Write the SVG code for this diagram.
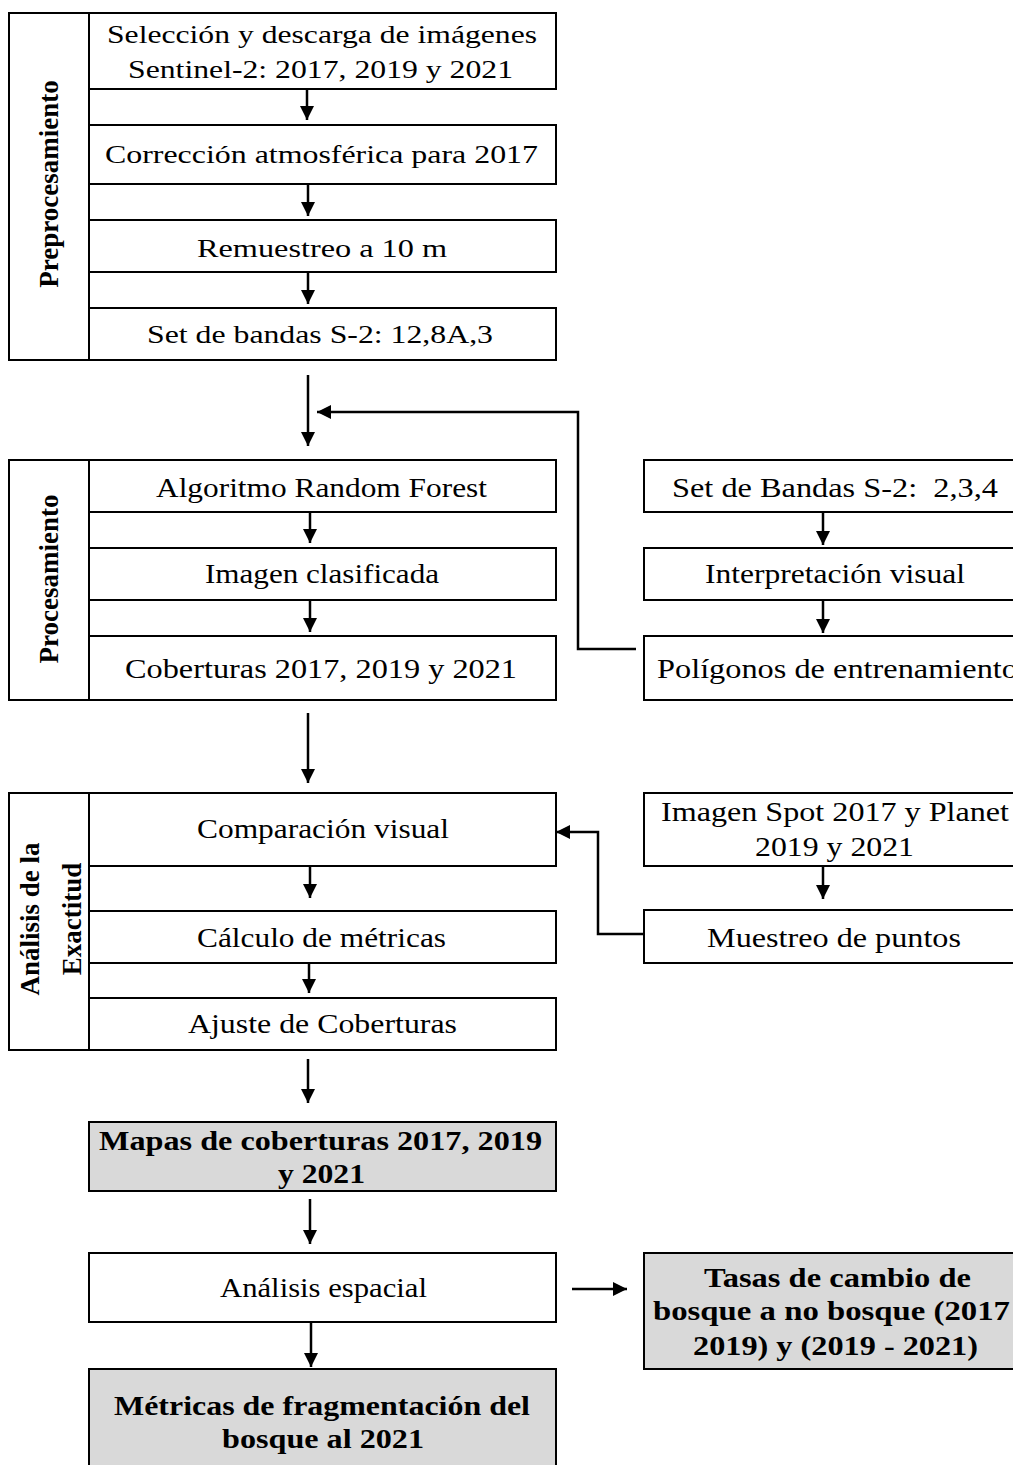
<svg xmlns="http://www.w3.org/2000/svg" width="1013" height="1465" viewBox="0 0 1013 1465">
<style>
.box{fill:#fff;stroke:#000;stroke-width:2}
.gbox{fill:#d9d9d9;stroke:#000;stroke-width:2}
.t{font-family:"Liberation Serif","Times New Roman",serif;font-size:27px;fill:#000;text-anchor:middle}
.t1{font-size:26px}
.b{font-weight:bold}
.lab{font-family:"Liberation Serif","Times New Roman",serif;font-size:27px;font-weight:bold;fill:#000;text-anchor:middle}
.c{fill:none;stroke:#000;stroke-width:2.5;marker-end:url(#ah)}
</style>
<defs>
<marker id="ah" viewBox="0 0 10 10" refX="10" refY="5" markerUnits="userSpaceOnUse" markerWidth="14" markerHeight="15" orient="auto">
<path d="M0,0 L10,5 L0,10 z" fill="#000"/>
</marker>
</defs>
<rect width="1013" height="1465" fill="#fff"/>

<g id="preprocesamiento">
<rect class="box" x="9" y="13" width="80" height="347"/>
<text class="lab" transform="translate(58,184) rotate(-90)">Preprocesamiento</text>
</g>
<g id="n-seleccion">
<rect class="box" x="89" y="13" width="467" height="76"/>
<text class="t t1" x="322" y="43" textLength="430" lengthAdjust="spacingAndGlyphs">Selección y descarga de imágenes</text>
<text class="t t1" x="320.5" y="78" textLength="385" lengthAdjust="spacingAndGlyphs">Sentinel-2: 2017, 2019 y 2021</text>
</g>
<g id="n-correccion">
<rect class="box" x="89" y="125" width="467" height="59"/>
<text class="t t1" x="321.5" y="163" textLength="433" lengthAdjust="spacingAndGlyphs">Corrección atmosférica para 2017</text>
</g>
<g id="n-remuestreo">
<rect class="box" x="89" y="220" width="467" height="52"/>
<text class="t t1" x="322" y="257" textLength="250" lengthAdjust="spacingAndGlyphs">Remuestreo a 10 m</text>
</g>
<g id="n-setbandas">
<rect class="box" x="89" y="308" width="467" height="52"/>
<text class="t t1" x="320" y="343" textLength="346" lengthAdjust="spacingAndGlyphs">Set de bandas S-2: 12,8A,3</text>
</g>

<g id="procesamiento">
<rect class="box" x="9" y="460" width="80" height="240"/>
<text class="lab" transform="translate(58,579) rotate(-90)">Procesamiento</text>
</g>
<g id="n-random">
<rect class="box" x="89" y="460" width="467" height="52"/>
<text class="t" x="321.5" y="497" textLength="331" lengthAdjust="spacingAndGlyphs">Algoritmo Random Forest</text>
</g>
<g id="n-clasificada">
<rect class="box" x="89" y="548" width="467" height="52"/>
<text class="t" x="322" y="583" textLength="234" lengthAdjust="spacingAndGlyphs">Imagen clasificada</text>
</g>
<g id="n-coberturas">
<rect class="box" x="89" y="636" width="467" height="64"/>
<text class="t" x="321" y="678" textLength="392" lengthAdjust="spacingAndGlyphs">Coberturas 2017, 2019 y 2021</text>
</g>
<g id="n-bandas234">
<rect class="box" x="644" y="460" width="372" height="52"/>
<text class="t" x="835" y="497" textLength="326" lengthAdjust="spacingAndGlyphs">Set de Bandas S-2:&#160; 2,3,4</text>
</g>
<g id="n-interpretacion">
<rect class="box" x="644" y="548" width="372" height="52"/>
<text class="t" x="835" y="583" textLength="260" lengthAdjust="spacingAndGlyphs">Interpretación visual</text>
</g>
<g id="n-poligonos">
<rect class="box" x="644" y="636" width="372" height="64"/>
<text class="t" x="657" y="678" style="text-anchor:start" textLength="361" lengthAdjust="spacingAndGlyphs">Polígonos de entrenamiento</text>
</g>

<g id="exactitud">
<rect class="box" x="9" y="793" width="80" height="257"/>
<text class="lab" transform="translate(39,919) rotate(-90)">Análisis de la</text>
<text class="lab" transform="translate(81,919) rotate(-90)">Exactitud</text>
</g>
<g id="n-comparacion">
<rect class="box" x="89" y="793" width="467" height="73"/>
<text class="t" x="323" y="838" textLength="252" lengthAdjust="spacingAndGlyphs">Comparación visual</text>
</g>
<g id="n-calculo">
<rect class="box" x="89" y="911" width="467" height="52"/>
<text class="t" x="321.5" y="947" textLength="249" lengthAdjust="spacingAndGlyphs">Cálculo de métricas</text>
</g>
<g id="n-ajuste">
<rect class="box" x="89" y="998" width="467" height="52"/>
<text class="t" x="322.5" y="1033" textLength="269" lengthAdjust="spacingAndGlyphs">Ajuste de Coberturas</text>
</g>
<g id="n-spot">
<rect class="box" x="644" y="793" width="372" height="73"/>
<text class="t" x="835" y="821" textLength="348" lengthAdjust="spacingAndGlyphs">Imagen Spot 2017 y Planet</text>
<text class="t" x="834.5" y="856" textLength="159" lengthAdjust="spacingAndGlyphs">2019 y 2021</text>
</g>
<g id="n-muestreo">
<rect class="box" x="644" y="910" width="372" height="53"/>
<text class="t" x="834" y="947" textLength="254" lengthAdjust="spacingAndGlyphs">Muestreo de puntos</text>
</g>

<g id="n-mapas">
<rect class="gbox" x="89" y="1122" width="467" height="69"/>
<text class="t b" x="320.5" y="1150" textLength="443" lengthAdjust="spacingAndGlyphs">Mapas de coberturas 2017, 2019</text>
<text class="t b" x="321.5" y="1183" textLength="87" lengthAdjust="spacingAndGlyphs">y 2021</text>
</g>
<g id="n-espacial">
<rect class="box" x="89" y="1253" width="467" height="69"/>
<text class="t" x="323.5" y="1297" textLength="207" lengthAdjust="spacingAndGlyphs">Análisis espacial</text>
</g>
<g id="n-tasas">
<rect class="gbox" x="644" y="1253" width="372" height="116"/>
<text class="t b" x="837.5" y="1287" textLength="267" lengthAdjust="spacingAndGlyphs">Tasas de cambio de</text>
<text class="t b" x="831.5" y="1320" textLength="357" lengthAdjust="spacingAndGlyphs">bosque a no bosque (2017</text>
<text class="t b" x="835.5" y="1355" textLength="285" lengthAdjust="spacingAndGlyphs">2019) y (2019 - 2021)</text>
</g>
<g id="n-metricas">
<rect class="gbox" x="89" y="1369" width="467" height="104"/>
<text class="t b" x="322" y="1415" textLength="416" lengthAdjust="spacingAndGlyphs">Métricas de fragmentación del</text>
<text class="t b" x="323" y="1448" textLength="202" lengthAdjust="spacingAndGlyphs">bosque al 2021</text>
</g>

<g id="connectors">
<line class="c" x1="307" y1="89" x2="307" y2="120"/>
<line class="c" x1="308" y1="184" x2="308" y2="216"/>
<line class="c" x1="308" y1="272" x2="308" y2="304"/>
<line class="c" x1="308" y1="375" x2="308" y2="446"/>
<line class="c" x1="310" y1="512" x2="310" y2="543"/>
<line class="c" x1="310" y1="600" x2="310" y2="632"/>
<line class="c" x1="823" y1="512" x2="823" y2="545"/>
<line class="c" x1="823" y1="600" x2="823" y2="633"/>
<polyline class="c" points="636,649 578,649 578,412 317,412"/>
<line class="c" x1="308" y1="713" x2="308" y2="783"/>
<line class="c" x1="310" y1="866" x2="310" y2="898"/>
<line class="c" x1="309" y1="963" x2="309" y2="993"/>
<line class="c" x1="823" y1="866" x2="823" y2="899"/>
<polyline class="c" points="643,934 598,934 598,832 556,832"/>
<line class="c" x1="308" y1="1059" x2="308" y2="1103"/>
<line class="c" x1="310" y1="1199" x2="310" y2="1244"/>
<line class="c" x1="572" y1="1289" x2="627" y2="1289"/>
<line class="c" x1="311" y1="1322" x2="311" y2="1367"/>
</g>
</svg>
